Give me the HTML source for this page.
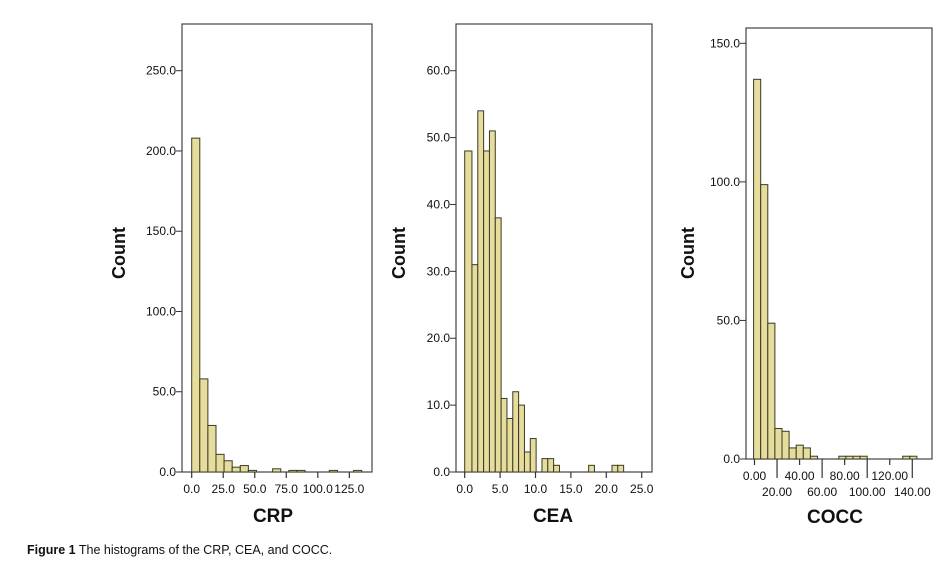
<!DOCTYPE html>
<html><head><meta charset="utf-8"><style>
body{margin:0;background:#fff;width:947px;height:561px;overflow:hidden}
svg{display:block}
text{font-family:"Liberation Sans",sans-serif;fill:#111}
.tk{font-size:12px}
.yt{font-size:18px;font-weight:bold}
.xt{font-size:19px;font-weight:bold}
</style></head><body>
<svg width="947" height="561" viewBox="0 0 947 561">
<g id="c1"></g>
<g id="c2"></g>
<g id="c3"></g>
<text x="27" y="554" style="font-size:12.5px"><tspan font-weight="bold">Figure 1</tspan> The histograms of the CRP, CEA, and COCC.</text>
</svg>
<script>
// CRP
const crpCounts=[208,58,29,11,7,3,4,1,0,0,2,0,1,1,0,0,0,1,0,0,1];
const crpYTicks=[0,50,100,150,200,250];
const crpYLabels=["0.0","50.0","100.0","150.0","200.0","250.0"];
const crpXTicks=[0,25,50,75,100,125];
const crpXLabels=["0.0","25.0","50.0","75.0","100.0","125.0"];
// CEA
const ceaCounts=[48,31,54,48,51,38,11,8,12,10,3,5,0,2,2,1,0,0,0,0,0,1,0,0,0,1,1];
const ceaYTicks=[0,10,20,30,40,50,60];
const ceaYLabels=["0.0","10.0","20.0","30.0","40.0","50.0","60.0"];
const ceaXTicks=[0,5,10,15,20,25];
const ceaXLabels=["0.0","5.0","10.0","15.0","20.0","25.0"];
// COCC
const coccCounts=[137,99,49,11,10,4,5,4,1,0,0,0,1,1,1,1,0,0,0,0,0,1,1];
const coccYTicks=[0,50,100,150];
const coccYLabels=["0.0","50.0","100.0","150.0"];
const coccXTicks=[0,20,40,60,80,100,120,140];
const coccXLabels=["0.00","20.00","40.00","60.00","80.00","100.00","120.00","140.00"];

const NS="http://www.w3.org/2000/svg";
function mk(parent,tag,attrs){const e=document.createElementNS(NS,tag);for(const k in attrs)e.setAttribute(k,attrs[k]);parent.appendChild(e);return e;}

function draw(gid,cfg){
  const g=document.getElementById(gid);
  const yS=v=>cfg.y0-(v/cfg.yUnit)*(cfg.y0-cfg.yAt);
  const xS=v=>cfg.x0+v*cfg.xPx;
  const frame=mk(g,'rect',{x:cfg.L,y:cfg.T,width:cfg.R-cfg.L,height:cfg.y0-cfg.T,fill:'none',stroke:'#444','stroke-width':1.2});
  
  
  cfg.counts.forEach((c,i)=>{
    if(c<=0)return;
    let xa=xS(cfg.start+i*cfg.bw), xb=xS(cfg.start+(i+1)*cfg.bw);
    if(i===0&&cfg.firstFromZero)xa=xS(0);
    const r=mk(g,'rect',{x:xa,y:yS(c),width:xb-xa,height:cfg.y0-yS(c),fill:'#e6dd9c',stroke:'#3a3a28','stroke-width':1});
    
    
  });
  cfg.yTicks.forEach((v,i)=>{
    const y=yS(v);
    mk(g,'line',{x1:cfg.L-6,x2:cfg.L,y1:y,y2:y,stroke:'#333','stroke-width':1});
    const t=mk(g,'text',{x:cfg.L-6,y:y+4,'text-anchor':'end',class:'tk'});t.textContent=cfg.yLabels[i];
    
    
  });
  cfg.xTicks.forEach((v,i)=>{
    const x=xS(v);
    const lower=cfg.stagger&&i%2==1;
    mk(g,'line',{x1:x,x2:x,y1:cfg.y0,y2:cfg.y0+(lower?19:6),stroke:'#333','stroke-width':1.2});
    const t=mk(g,'text',{x:x,y:cfg.y0+(lower?37:21),'text-anchor':'middle',class:'tk'});t.textContent=cfg.xLabels[i];
    
    
  });
  const yt=mk(g,'text',{x:cfg.ytx,y:253,'text-anchor':'middle',class:'yt',transform:`rotate(-90 ${cfg.ytx} 253)`});yt.textContent='Count';
  
  
  const xt=mk(g,'text',{x:cfg.xtx,y:cfg.xty,'text-anchor':'middle',class:'xt'});xt.textContent=cfg.title;
  
  
}
draw('c1',{L:182,T:24,R:372,y0:472,yAt:70.7,yUnit:250,x0:191.7,xPx:1.261,start:0,bw:6.42,
  counts:crpCounts,yTicks:crpYTicks,yLabels:crpYLabels,xTicks:crpXTicks,xLabels:crpXLabels,ytx:125,xtx:273,xty:522,title:'CRP'});
draw('c2',{L:456,T:24,R:652,y0:472,yAt:70.7,yUnit:60,x0:464.7,xPx:7.08,start:0.2,bw:0.824,firstFromZero:true,
  counts:ceaCounts,yTicks:ceaYTicks,yLabels:ceaYLabels,xTicks:ceaXTicks,xLabels:ceaXLabels,ytx:405,xtx:553,xty:522,title:'CEA'});
draw('c3',{L:746,T:28,R:932,y0:459,yAt:43.3,yUnit:150,x0:754.5,xPx:1.127,start:-0.8,bw:6.3,stagger:true,
  counts:coccCounts,yTicks:coccYTicks,yLabels:coccYLabels,xTicks:coccXTicks,xLabels:coccXLabels,ytx:694,xtx:835,xty:523,title:'COCC'});
</script>
</body></html>
